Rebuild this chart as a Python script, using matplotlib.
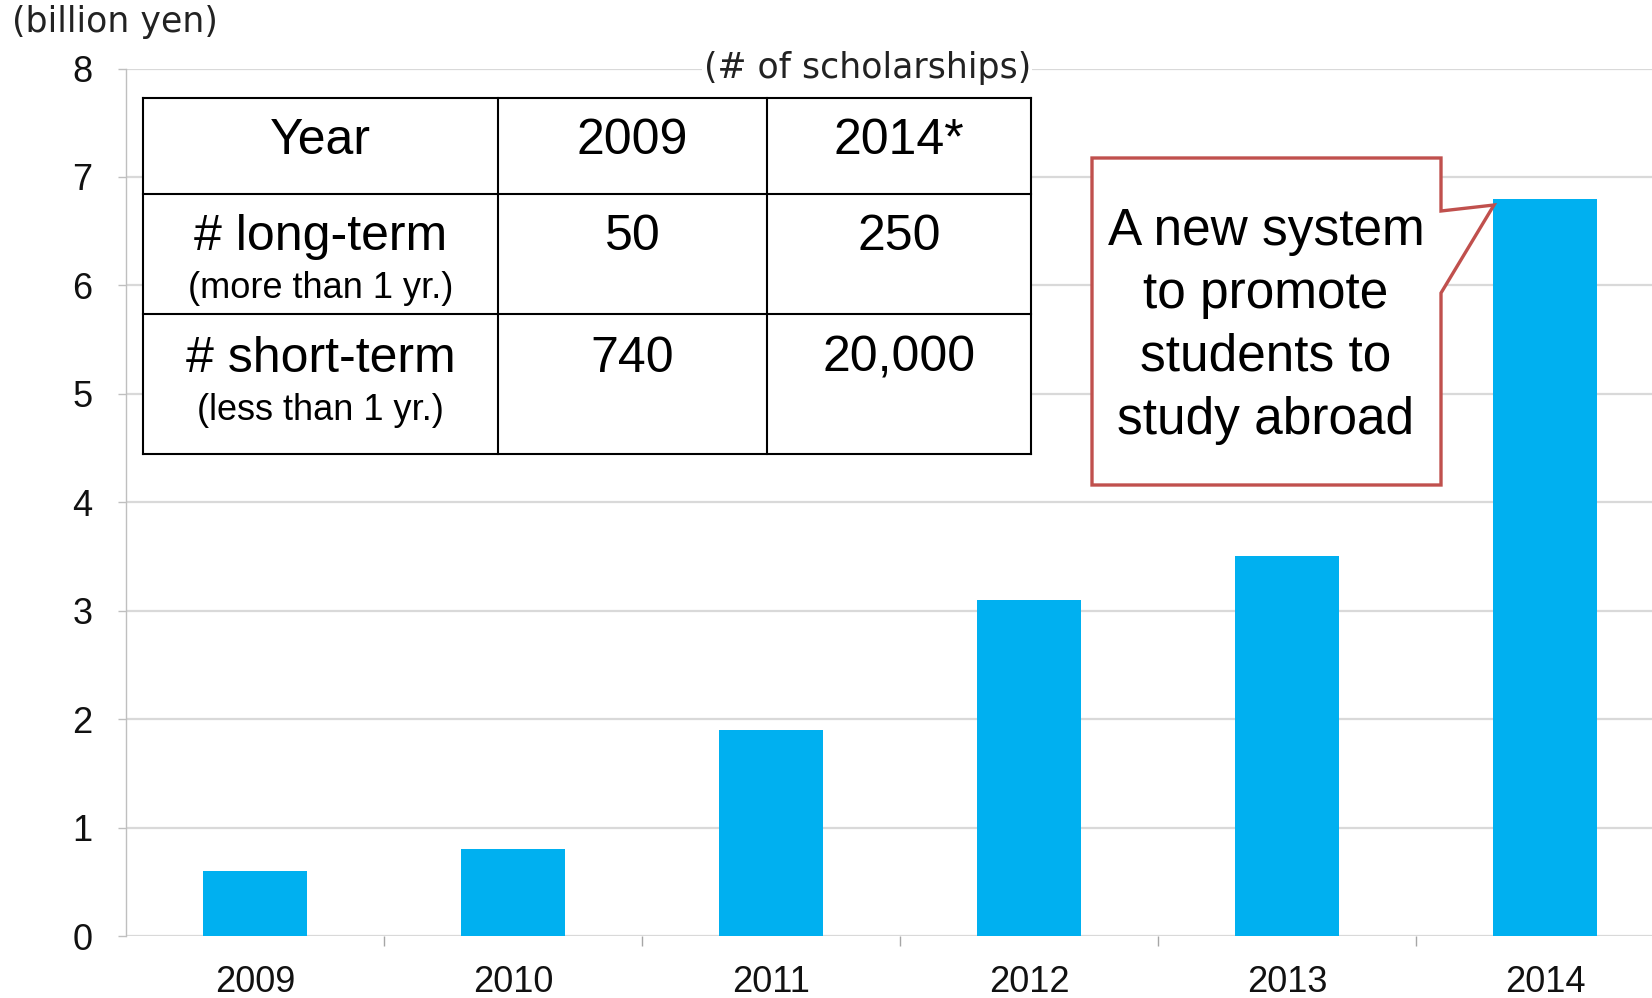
import matplotlib
matplotlib.use("Agg")
import matplotlib.pyplot as plt
from matplotlib.patches import Polygon, Rectangle
from matplotlib.lines import Line2D

# ---- data ----
years = ["2009", "2010", "2011", "2012", "2013", "2014"]
budget = [0.6, 0.8, 1.9, 3.1, 3.5, 6.8]  # billion yen
y_ticks = [0, 1, 2, 3, 4, 5, 6, 7, 8]

table_header = ["Year", "2009", "2014*"]
table_rows = [
    ("# long-term", "(more than 1 yr.)", "50", "250"),
    ("# short-term", "(less than 1 yr.)", "740", "20,000"),
]
callout_text = "A new system\nto promote\nstudents to\nstudy abroad"

BAR = "#00B0F0"
GRID = "#d9d9d9"
RED = "#C0504D"
SANS = "Liberation Sans"

W, H = 1652, 998
fig = plt.figure(figsize=(W / 100, H / 100), dpi=100)

# main bar axes (runs slightly past the right edge, like the original slide)
ax = fig.add_axes([126 / W, 62 / H, (1674 - 126) / W, (936 - 68.5) / H])
x = range(len(years))
ax.bar(x, budget, width=0.4, color=BAR, zorder=2)
ax.set_xlim(-0.5, len(years) - 0.5)
ax.set_ylim(0, 8)
ax.set_yticks(y_ticks)
ax.set_yticklabels([str(t) for t in y_ticks], fontsize=26, family=SANS, color="#111")
ax.set_xticks(list(x))
ax.set_xticklabels(years, fontsize=26, family=SANS, color="#111")
ax.set_xticks([i + 0.5 for i in range(len(years) - 1)], minor=True)
ax.tick_params(axis="x", which="major", length=0, pad=21)
ax.tick_params(axis="x", which="minor", length=7, width=1, color="#a6a6a6", direction="out")
ax.tick_params(axis="y", length=6, width=1, color="#bfbfbf", pad=18)
ax.grid(axis="y", color=GRID, linewidth=1.6, zorder=0)
ax.set_axisbelow(True)
for s in ("top", "right", "bottom"):
    ax.spines[s].set_visible(False)
ax.spines["left"].set_color("#bfbfbf")
ax.spines["left"].set_linewidth(1)

# overlay in pixel coordinates for the table and the callout
ov = fig.add_axes([0, 0, 1, 1], facecolor="none")
ov.set_xlim(0, W)
ov.set_ylim(H, 0)
ov.axis("off")

fig.text(12 / W, 1 - 22 / H, "(billion yen)", fontsize=25, family="DejaVu Sans",
         color="#222", ha="left", va="center")

# table
col_x = [143, 498, 767, 1031]
row_y = [98, 194, 314, 454]
ov.add_patch(Rectangle((col_x[0], row_y[0]), col_x[-1] - col_x[0], row_y[-1] - row_y[0],
                       facecolor="white", edgecolor="none", zorder=3))
for cx in col_x:
    ov.add_line(Line2D([cx, cx], [row_y[0], row_y[-1]], color="black", lw=1.5, zorder=4))
for ry in row_y:
    ov.add_line(Line2D([col_x[0], col_x[-1]], [ry, ry], color="black", lw=1.5, zorder=4))

centers = [(col_x[i] + col_x[i + 1]) / 2 for i in range(3)]
for cx, label in zip(centers, table_header):
    ov.text(cx, 141, label, fontsize=36, family=SANS, ha="center", va="center", zorder=5)
for (main, sub, v09, v14), y0 in zip(table_rows, [237, 359]):
    ov.text(centers[0], y0, main, fontsize=36, family=SANS, ha="center", va="center", zorder=5)
    ov.text(centers[0], y0 + 51, sub, fontsize=26, family=SANS, ha="center", va="center", zorder=5)
    ov.text(centers[1], y0, v09, fontsize=36, family=SANS, ha="center", va="center", zorder=5)
    ov.text(centers[2], y0, v14, fontsize=36, family=SANS, ha="center", va="center", zorder=5)

ov.text(col_x[-1], 68, "(# of scholarships)", fontsize=25, family="DejaVu Sans", color="#222",
        ha="right", va="center", zorder=5,
        bbox=dict(facecolor="white", edgecolor="none", pad=1))

# callout box with pointer to the 2014 bar
callout = Polygon([(1092, 158), (1441, 158), (1441, 211), (1494, 205),
                   (1441, 293), (1441, 485), (1092, 485)],
                  closed=True, facecolor="white", edgecolor=RED, lw=2.4, zorder=6)
ov.add_patch(callout)
ov.text(1266, 326, callout_text, fontsize=37, family=SANS, ha="center", va="center",
        linespacing=1.36, zorder=7)

fig.savefig("out.png", dpi=100, facecolor="white")
